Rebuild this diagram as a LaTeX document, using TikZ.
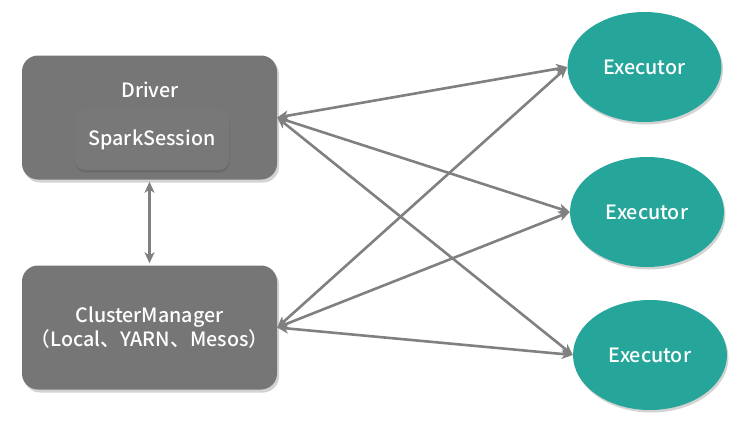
\documentclass[tikz,border=0pt]{standalone}
\usepackage{fontspec}
\setmainfont{Noto Sans CJK SC}[UprightFont={* Medium}]
\usetikzlibrary{shapes.geometric,shadows,arrows.meta}
\definecolor{boxgray}{HTML}{767676}
\definecolor{innergray}{HTML}{787878}
\definecolor{teal}{HTML}{26A69A}
\definecolor{arrowgray}{HTML}{808080}
\tikzset{
  x=1pt,y=-1pt,
  lbl/.style={text=white,font=\fontsize{19.7}{24.5}\selectfont},
  bigbox/.style={lbl,draw=none,fill=boxgray,rounded corners=16pt,minimum width=255pt,minimum height=124pt,
    drop shadow={shadow xshift=2pt,shadow yshift=-3pt,opacity=0.35},align=center},
  innerbox/.style={lbl,draw=none,fill=innergray,rounded corners=10pt,minimum width=154pt,minimum height=60pt,
    drop shadow={shadow xshift=0.5pt,shadow yshift=-2.5pt,opacity=0.75,fill=black!60}},
  exec/.style={lbl,ellipse,draw=none,fill=teal,minimum width=154pt,minimum height=110pt,inner sep=0pt,
    drop shadow={shadow xshift=1.5pt,shadow yshift=-2.5pt,opacity=0.35}},
  link/.style={draw=arrowgray,line width=2.6pt,{Stealth[length=11pt,width=10pt,inset=3pt]}-{Stealth[length=11pt,width=10pt,inset=3pt]}}
}
\begin{document}
\begin{tikzpicture}
\useasboundingbox (0,0) rectangle (750,424);
\node[bigbox] (driver) at (149.5,117.5) {};
\node[lbl] (drivertxt) at (150,90) {Driver};
\node[innerbox] (spark) at (152,140) {SparkSession};
\node[bigbox] (cm) at (149.5,327.5) {ClusterManager\\（Local、YARN、Mesos）};
\node[exec] (e1) at (644.5,67) {Executor};
\node[exec] (e2) at (647,212) {Executor};
\node[exec] (e3) at (650,355) {Executor};
\draw[link,shorten <=2pt,shorten >=2pt] (driver.south) -- (cm.north);
\draw[link] (driver.east) -- (e1.west);
\draw[link] (driver.east) -- (e2.west);
\draw[link] (driver.east) -- (e3.west);
\draw[link] (cm.east) -- (e1.west);
\draw[link] (cm.east) -- (e2.west);
\draw[link] (cm.east) -- (e3.west);
\end{tikzpicture}
\end{document}
